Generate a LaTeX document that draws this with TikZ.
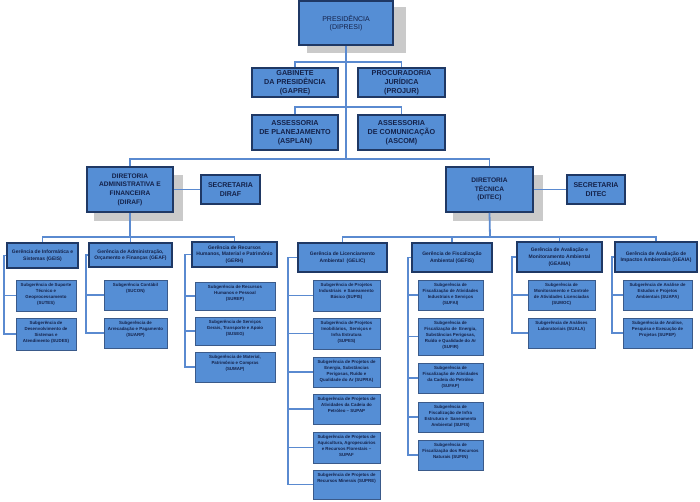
\documentclass[tikz,border=0pt]{standalone}
\usepackage{fontspec}
\setmainfont{Liberation Sans}
\usetikzlibrary{shadows}
\definecolor{boxblue}{HTML}{558ED5}
\definecolor{navy}{HTML}{1F3864}
\definecolor{innerblue}{HTML}{8DB4E2}
\definecolor{linkblue}{HTML}{5A8AD0}
\definecolor{txtnavy}{HTML}{14224A}
\definecolor{subedge}{HTML}{3A5A8A}
\definecolor{shadowgray}{HTML}{CACACA}
\tikzset{
  base/.style={fill=boxblue, inner sep=0pt, align=center, text=txtnavy},
  innerline/.style={append after command={\pgfextra{\draw[innerblue, line width=0.7pt]
      ([shift={(1.7pt,-1.7pt)}]\tikzlastnode.north west) rectangle
      ([shift={(-1.7pt,1.7pt)}]\tikzlastnode.south east);}}},
  topbox/.style={base, draw=navy, line width=1.5pt, innerline,
      font=\bfseries\fontsize{7.2}{9}\selectfont},
  dirbox/.style={topbox, font=\bfseries\fontsize{6.6}{8.7}\selectfont,
      drop shadow={shadow xshift=8pt, shadow yshift=-8pt, shadow scale=1.03, fill=shadowgray, opacity=1}},
  secbox/.style={topbox, font=\bfseries\fontsize{7}{8.7}\selectfont},
  gerbox/.style={base, draw=navy, line width=1.8pt, innerline,
      font=\bfseries\fontsize{5}{6.7}\selectfont},
  subbox/.style={base, draw=subedge, line width=0.8pt},
  subtext/.style={anchor=north, inner sep=0pt, yshift=-3.5pt, align=center, text=txtnavy,
      font=\bfseries\fontsize{4.4}{6}\selectfont},
  link/.style={draw=linkblue, line width=1.8pt}
}
\newcommand\subu[6]{\node[subbox, minimum width=#4pt, minimum height=#5pt] (#1) at (#2,#3) {};
  \node[subtext] (#1t) at (#1.north) {#6};}
\begin{document}
\begin{tikzpicture}[x=1pt,y=-1pt]
\useasboundingbox (0,0) rectangle (700,501);
% top levels
\node[topbox, font=\fontsize{7}{8.3}\selectfont, minimum width=94pt, minimum height=44pt,
  drop shadow={shadow xshift=10pt, shadow yshift=-7pt, shadow scale=1.05, fill=shadowgray, opacity=1}]
  (pres) at (346,23) {PRESIDÊNCIA\\(DIPRESI)};
\node[topbox, minimum width=86pt, minimum height=29pt] (gapre) at (295,82.5) {GABINETE\\DA PRESIDÊNCIA\\(GAPRE)};
\node[topbox, minimum width=87pt, minimum height=29pt] (projur) at (401.5,82.5) {PROCURADORIA\\JURÍDICA\\(PROJUR)};
\node[topbox, minimum width=86pt, minimum height=35pt] (asplan) at (295,132.5) {ASSESSORIA\\DE PLANEJAMENTO\\(ASPLAN)};
\node[topbox, minimum width=87pt, minimum height=35pt] (ascom) at (401.5,132.5) {ASSESSORIA\\DE COMUNICAÇÃO\\(ASCOM)};
\node[dirbox, minimum width=86pt, minimum height=45pt] (diraf) at (130,189.5) {DIRETORIA\\ADMINISTRATIVA E\\FINANCEIRA\\(DIRAF)};
\node[secbox, minimum width=59pt, minimum height=29pt] (secdiraf) at (230.5,189.5) {SECRETARIA\\DIRAF};
\node[dirbox, minimum width=87pt, minimum height=45pt] (ditec) at (489.5,189.5) {DIRETORIA\\TÉCNICA\\(DITEC)};
\node[secbox, minimum width=58pt, minimum height=29pt] (secditec) at (596,189.5) {SECRETARIA\\DITEC};
% gerencias
\node[gerbox, minimum width=71pt, minimum height=25pt] (geis) at (42.5,255.5) {Gerência de Informática e\\Sistemas (GEIS)};
\node[gerbox, minimum width=83pt, minimum height=24pt] (geaf) at (130.5,255) {Gerência de Administração,\\Orçamento e Finanças (GEAF)};
\node[gerbox, minimum width=85pt, minimum height=25pt] (gerh) at (234.5,254.5) {Gerência de Recursos\\Humanos, Material e Patrimônio\\(GERH)};
\node[gerbox, minimum width=89pt, minimum height=29pt] (gelic) at (342.5,257.5) {Gerência de Licenciamento\\Ambiental\ \ (GELIC)};
\node[gerbox, minimum width=80pt, minimum height=29pt] (gefis) at (452,257.5) {Gerência de Fiscalização\\Ambiental (GEFIS)};
\node[gerbox, minimum width=85pt, minimum height=30pt] (geama) at (559.5,257) {Gerência de Avaliação e\\Monitoramento Ambiental\\(GEAMA)};
\node[gerbox, minimum width=82pt, minimum height=30pt] (geaia) at (656,257) {Gerência de Avaliação de\\Impactos Ambientais (GEAIA)};
% subgerencias
\subu{sutes}{46}{295.5}{60}{31}{Subgerência de Suporte\\Técnico e\\Geoprocessamento\\(SUTES)}
\subu{sudes}{46}{334}{60}{32}{Subgerência de\\Desenvolvimento de\\Sistemas e\\Atendimento (SUDES)}
\subu{sucon}{135.5}{295}{63}{30}{Subgerência Contábil\\(SUCON)}
\subu{suarp}{135.5}{333}{63}{30}{Subgerência de\\Arrecadação e Pagamento\\(SUARP)}
\subu{surep}{235}{296}{80}{28}{Subgerência de Recursos\\Humanos e Pessoal\\(SUREP)}
\subu{suseg}{235}{331}{80}{28}{Subgerência de Serviços\\Gerais, Transporte e Apoio\\(SUSEG)}
\subu{sumap}{235}{367}{80}{30}{Subgerência de Material,\\Patrimônio e Compras\\(SUMAP)}
\subu{supis}{346.5}{295.5}{67}{31}{Subgerência de Projetos\\Industriais\ \ e Saneamento\\Básico (SUPIS)}
\subu{supes}{346.5}{333.5}{67}{31}{Subgerência de Projetos\\Imobiliários,\ \ Serviços e\\Infra Estrutura\\(SUPES)}
\subu{supra}{346.5}{372}{67}{30}{Subgerência de Projetos de\\Energia, Substâncias\\Perigosas, Ruído e\\Qualidade do Ar (SUPRA)}
\subu{supap}{346.5}{409}{67}{30}{Subgerência de Projetos de\\Atividades da Cadeia do\\Petróleo – SUPAP}
\subu{supaf}{346.5}{447.5}{67}{31}{Subgerência de Projetos de\\Aquicultura, Agropecuários\\e Recursos Florestais –\\SUPAF}
\subu{supre}{346.5}{484.5}{67}{29}{Subgerência de Projetos de\\Recursos Minerais (SUPRE)}
\subu{sufai}{450.5}{295}{65}{30}{Subgerência de\\Fiscalização de Atividades\\Industriais e Serviços\\(SUFAI)}
\subu{sufir}{450.5}{336.5}{65}{37}{Subgerência de\\Fiscalização de\ \ Energia,\\Substâncias Perigosas,\\Ruído e Qualidade do Ar\\(SUFIR)}
\subu{sufap}{450.5}{378}{65}{30}{Subgerência de\\Fiscalização de Atividades\\da Cadeia do Petróleo\\(SUFAP)}
\subu{sufis}{450.5}{417}{65}{30}{Subgerência de\\Fiscalização de Infra\\Estrutura e\ \ Saneamento\\Ambiental (SUFIS)}
\subu{sufin}{450.5}{455}{65}{30}{Subgerência de\\Fiscalização dos Recursos\\Naturais (SUFIN)}
\subu{sumoc}{561.5}{295}{67}{30}{Subgerência de\\Monitoramento e Controle\\de Atividades Licenciadas\\(SUMOC)}
\subu{suala}{561.5}{333}{67}{30}{Subgerência de Análises\\Laboratoriais (SUALA)}
\subu{suapa}{657.5}{295}{69}{30}{Subgerência de Análise de\\Estudos e Projetos\\Ambientais (SUAPA)}
\subu{supep}{657.5}{333}{69}{30}{Subgerência de Análise,\\Pesquisa e Execução de\\Projetos (SUPEP)}
% hub coordinates
\coordinate (h1) at (346,62);
\coordinate (h2) at (346,107);
\coordinate (h3) at (346,159);
\coordinate (h4) at (130,237);
\coordinate (h5) at (490,237);
\coordinate (bA) at (4,0);
\coordinate (bB) at (86,0);
\coordinate (bC) at (185,0);
\coordinate (bD) at (288,0);
\coordinate (bE) at (408,0);
\coordinate (bF) at (512,0);
\coordinate (bG) at (612,0);
% connectors
\draw[link] (pres.south) -- (h3);
\draw[link] (gapre.north) -- (gapre.north |- h1) -- (projur.north |- h1) -- (projur.north);
\draw[link] (asplan.north) -- (asplan.north |- h2) -- (ascom.north |- h2) -- (ascom.north);
\draw[link] (diraf.north) -- (diraf.north |- h3) -- (ditec.north |- h3) -- (ditec.north);
\draw[link] (diraf.east) -- (secdiraf.west);
\draw[link] (ditec.east) -- (secditec.west);
\draw[link] (diraf.south) -- (h4);
\draw[link] (geis.north) -- (geis.north |- h4) -- (gerh.north |- h4) -- (gerh.north);
\draw[link] (geaf.north) -- (geaf.north |- h4);
\draw[link] (ditec.south) -- (h5);
\draw[link] (gelic.north) -- (gelic.north |- h5) -- (geaia.north |- h5) -- (geaia.north);
\draw[link] (gefis.north) -- (gefis.north |- h5);
\draw[link] (geama.north) -- (geama.north |- h5);
% brackets
\draw[link] (geis.west) -- (geis.west -| bA) |- (sudes.west);
\draw[link] (geis.west -| bA) |- (sutes.west);
\draw[link] (geaf.west) -- (geaf.west -| bB) |- (suarp.west);
\draw[link] (geaf.west -| bB) |- (sucon.west);
\draw[link] (gerh.west) -- (gerh.west -| bC) |- (sumap.west);
\draw[link] (gerh.west -| bC) |- (surep.west);
\draw[link] (gerh.west -| bC) |- (suseg.west);
\draw[link] (gelic.west) -- (gelic.west -| bD) |- (supre.west);
\foreach \s in {supis,supes,supra,supap,supaf} {\draw[link] (gelic.west -| bD) |- (\s.west);}
\draw[link] (gefis.west) -- (gefis.west -| bE) |- (sufin.west);
\foreach \s in {sufai,sufir,sufap,sufis} {\draw[link] (gefis.west -| bE) |- (\s.west);}
\draw[link] (geama.west) -- (geama.west -| bF) |- (suala.west);
\draw[link] (geama.west -| bF) |- (sumoc.west);
\draw[link] (geaia.west) -- (geaia.west -| bG) |- (supep.west);
\draw[link] (geaia.west -| bG) |- (suapa.west);
\end{tikzpicture}
\end{document}
